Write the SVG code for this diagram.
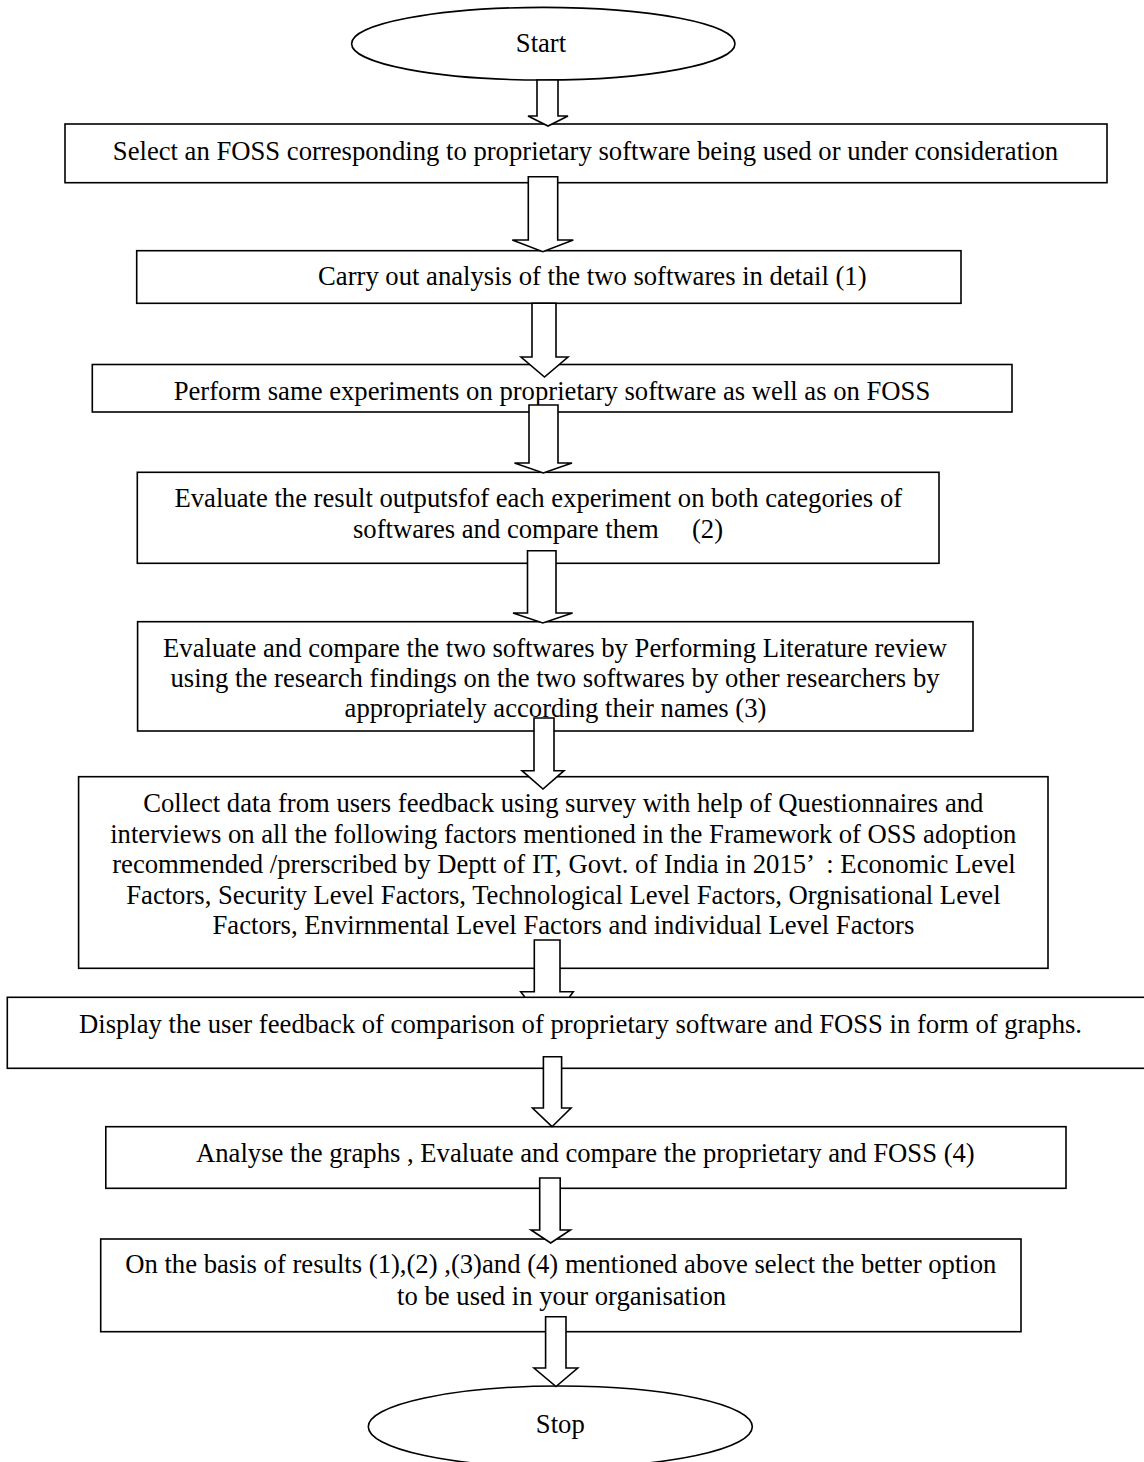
<svg xmlns="http://www.w3.org/2000/svg" width="1144" height="1462" viewBox="0 0 1144 1462">
<style>
.box{fill:#fff;stroke:#000;stroke-width:1.6}
.arr{fill:#fff;stroke:#000;stroke-width:1.6;stroke-linejoin:miter}
text{font-family:"Liberation Serif","Times New Roman",serif;font-size:26.67px;fill:#000;text-anchor:middle}
</style>
<rect width="1144" height="1462" fill="#fff"/>
<g id="start"><ellipse class="box" cx="543.3" cy="43.7" rx="191.7" ry="36.3"/><text x="541" y="51.7">Start</text></g>
<g id="n1"><rect class="box" x="65" y="124" width="1042" height="58.7"/><text x="585.5" y="160">Select an FOSS corresponding to proprietary software being used or under consideration</text></g>
<g id="n2"><rect class="box" x="136.7" y="250.7" width="824.3" height="52.6"/><text x="592.3" y="285">Carry out analysis of the two softwares in detail (1)</text></g>
<g id="n3"><rect class="box" x="92.3" y="364.5" width="919.7" height="47.5"/><text x="552" y="400">Perform same experiments on proprietary software as well as on FOSS</text></g>
<g id="n4"><rect class="box" x="137.3" y="472.3" width="801.7" height="91"/><text x="538.3" y="507">Evaluate the result outputsfof each experiment on both categories of</text><text x="538" y="538" xml:space="preserve">softwares and compare them     (2)</text></g>
<g id="n5"><rect class="box" x="137.6" y="621.7" width="835.4" height="109.3"/><text x="555" y="656.7">Evaluate and compare the two softwares by Performing Literature review</text><text x="555" y="687">using the research findings on the two softwares by other researchers by</text><text x="555.5" y="717">appropriately according their names (3)</text></g>
<g id="n6"><rect class="box" x="78.6" y="776.7" width="969.4" height="191.6"/><text x="563.3" y="812.3">Collect data from users feedback using survey with help of Questionnaires and</text><text x="563.3" y="842.8">interviews on all the following factors mentioned in the Framework of OSS adoption</text><text x="564" y="873.3" xml:space="preserve">recommended /prerscribed by Deptt of IT, Govt. of India in 2015’  : Economic Level</text><text x="563.4" y="903.8">Factors, Security Level Factors, Technological Level Factors, Orgnisational Level</text><text x="563.4" y="934.3">Factors, Envirnmental Level Factors and individual Level Factors</text></g>
<g id="n7"><rect class="box" x="7.3" y="997.3" width="1150" height="71"/><text x="580.5" y="1033.3">Display the user feedback of comparison of proprietary software and FOSS in form of graphs.</text></g>
<g id="n8"><rect class="box" x="105.8" y="1126.7" width="960.2" height="61.6"/><text x="585.4" y="1161.7">Analyse the graphs , Evaluate and compare the proprietary and FOSS (4)</text></g>
<g id="n9"><rect class="box" x="100.7" y="1239" width="920.3" height="92.7"/><text x="560.8" y="1273">On the basis of results (1),(2) ,(3)and (4) mentioned above select the better option</text><text x="561.6" y="1305">to be used in your organisation</text></g>
<g id="stop"><ellipse class="box" cx="560.3" cy="1426.7" rx="192" ry="40.7"/><text x="560.3" y="1433.3">Stop</text></g>
<g id="connectors">
<polygon class="arr" points="537,80 558,80 558,116 568,116 548,126 528,116 537,116"/>
<polygon class="arr" points="528.3,176.7 557.7,176.7 557.7,240 573.3,240 542.8,251.7 512.3,240 528.3,240"/>
<polygon class="arr" points="532,303.3 556,303.3 556,357 568,357 544.5,377 521,357 532,357"/>
<polygon class="arr" points="529,405 558,405 558,463 572,463 543.3,473 514.5,463 529,463"/>
<polygon class="arr" points="527.5,550.7 556,550.7 556,613 572.6,613 542.8,623 513,613 527.5,613"/>
<polygon class="arr" points="534,718 554,718 554,770.7 564,770.7 543,789 522,770.7 534,770.7"/>
<polygon class="arr" points="534.3,940 560,940 560,991.7 573.3,991.7 569.3,997.3 525,997.3 520.7,991.7 534.3,991.7"/>
<polygon class="arr" points="543.4,1056.7 561.6,1056.7 561.6,1108 571,1108 552,1126.7 532.5,1108 543.4,1108"/>
<polygon class="arr" points="539.7,1178 560.2,1178 560.2,1230 570.4,1230 550.7,1243 531,1230 539.7,1230"/>
<polygon class="arr" points="545.6,1316.7 566,1316.7 566,1368 577.7,1368 556,1386.5 534,1368 545.6,1368"/>
</g>
</svg>
